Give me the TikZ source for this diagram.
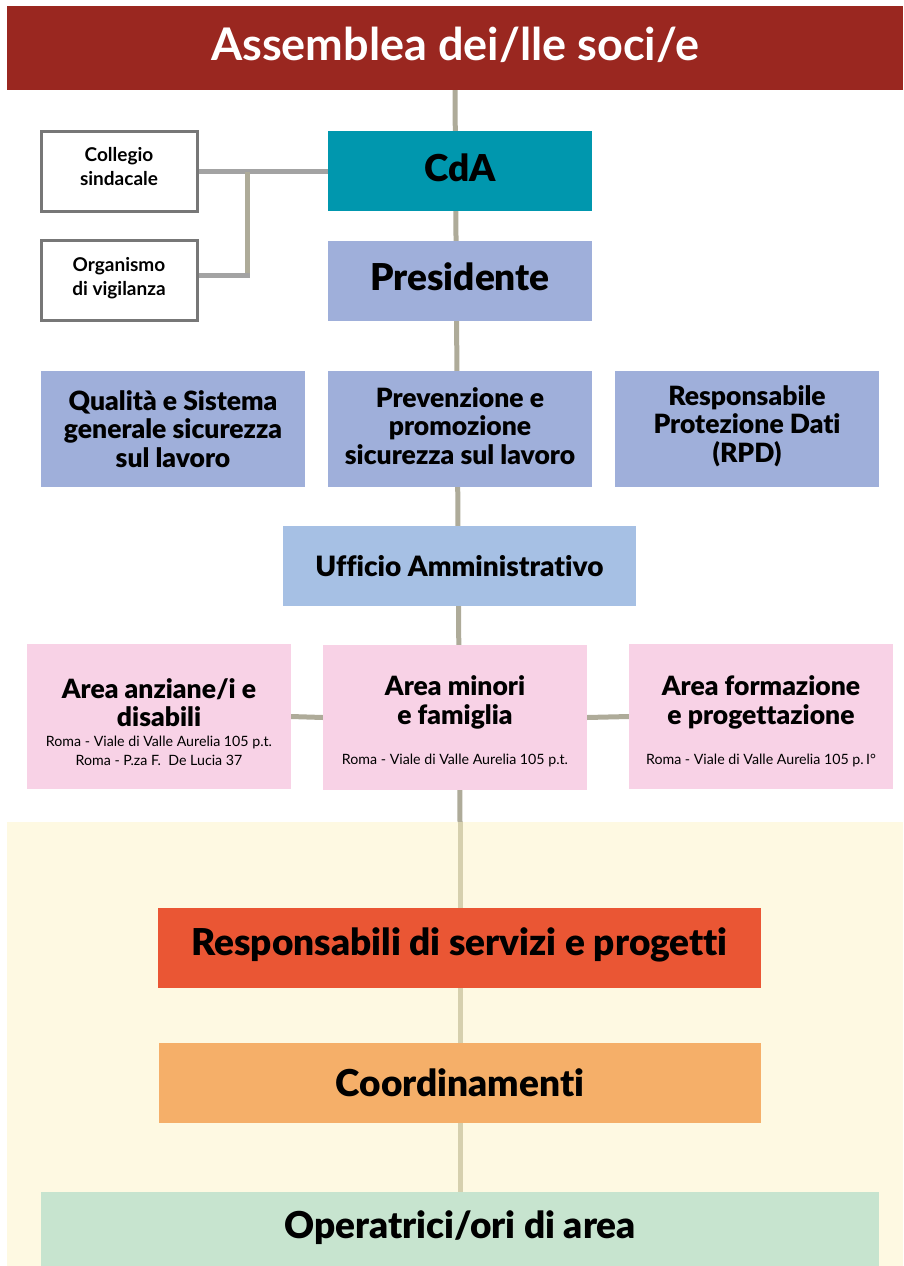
\documentclass[tikz,border=0pt]{standalone}
\usepackage{fontspec}
\setmainfont{Lato}[Ligatures={NoCommon}, BoldFont={* Black}]
\newfontfamily\sidefont{Lato Bold}[Ligatures={NoCommon}]
\definecolor{hdrred}{HTML}{9A2720}
\definecolor{cdateal}{HTML}{0097AE}
\definecolor{presblue}{HTML}{9FAFDA}
\definecolor{uffblue}{HTML}{A6C0E4}
\definecolor{areapink}{HTML}{F8D2E6}
\definecolor{bgyellow}{HTML}{FEF9E2}
\definecolor{respred}{HTML}{EA5634}
\definecolor{coordor}{HTML}{F5AF69}
\definecolor{oprgreen}{HTML}{C7E4CF}
\definecolor{linegray}{HTML}{AEAB99}
\definecolor{linelight}{HTML}{D6D0AE}
\definecolor{sidegray}{HTML}{A3A3A3}
\definecolor{bordgray}{HTML}{777777}
\pgfdeclarelayer{back}
\pgfdeclarelayer{mid}
\pgfsetlayers{back,mid,main}
\tikzset{
  box/.style={rectangle, inner sep=0pt, outer sep=0pt, draw=none},
  sidebox/.style={rectangle, inner sep=0pt, outer sep=0pt, draw=bordgray, line width=3pt, fill=white, minimum width=156pt, minimum height=80pt},
  conn/.style={line width=5pt, draw=linegray},
  sideconn/.style={line width=5pt, draw=sidegray},
  bigtxt/.style={font=\bfseries\fontsize{37}{40}\selectfont, align=center},
  midtxt/.style={font=\bfseries\fontsize{26.5}{28.5}\selectfont, align=center},
  sidetxt/.style={font=\sidefont\fontsize{19}{24}\selectfont, align=center},
  smalltxt/.style={font=\fontsize{14.2}{19}\selectfont, align=center},
}
\begin{document}
\begin{tikzpicture}[x=1pt,y=-1pt]
\useasboundingbox (0,0) rectangle (903,1266);
% boxes
\node[box, fill=hdrred, minimum width=896pt, minimum height=84pt] (hdr) at (455,48) {};
\node[font=\sidefont\fontsize{45}{48}\selectfont, text=white] (hdrt) at (455,45) {Assemblea dei/lle soci/e};

\node[box, fill=cdateal, minimum width=264pt, minimum height=80pt] (cda) at (460,171) {};
\node[bigtxt] (cdat) at (460,168) {CdA};
\node[box, fill=presblue, minimum width=264pt, minimum height=80pt] (pres) at (460,281) {};
\node[bigtxt] (prest) at (460,277) {Presidente};

\node[sidebox] (coll) at (119,171) {};
\node[sidetxt] (collt) at (119,167) {Collegio\\sindacale};
\node[sidebox] (org) at (119,280.5) {};
\node[sidetxt] (orgt) at (119,278) {Organismo\\di vigilanza};

\node[box, fill=presblue, minimum width=264pt, minimum height=116pt] (qual) at (173,429) {};
\node[midtxt] (qualt) at (173,429) {Qualità e Sistema\\generale sicurezza\\sul lavoro};
\node[box, fill=presblue, minimum width=264pt, minimum height=116pt] (prev) at (460,429) {};
\node[midtxt] (prevt) at (460,426) {Prevenzione e\\promozione\\sicurezza sul lavoro};
\node[box, fill=presblue, minimum width=264pt, minimum height=116pt] (rpd) at (747,429) {};
\node[midtxt] (rpdt) at (747,426) {Responsabile\\Protezione Dati\\(RPD)};

\node[box, fill=uffblue, minimum width=353pt, minimum height=80pt] (uff) at (459.5,566) {};
\node[midtxt, font=\bfseries\fontsize{28}{28.5}\selectfont] (ufft) at (459.5,566) {Ufficio Amministrativo};

\node[box, fill=areapink, minimum width=264pt, minimum height=145pt] (aan) at (159,716.5) {};
\node[midtxt] (aant) at (159,702.5) {Area anziane/i e\\disabili};
\node[smalltxt] (aans) at (159,750.5) {Roma - Viale di Valle Aurelia 105 p.t.\\Roma - P.za F.\ \ De Lucia 37};
\node[box, fill=areapink, minimum width=264pt, minimum height=145pt] (amin) at (455,717.5) {};
\node[midtxt] (amint) at (455,702.5) {Area minori\\e famiglia};
\node[smalltxt] (amins) at (455,760) {Roma - Viale di Valle Aurelia 105 p.t.};
\node[box, fill=areapink, minimum width=264pt, minimum height=145pt] (afor) at (761,716.5) {};
\node[midtxt] (afort) at (761,702.5) {Area formazione\\e progettazione};
\node[smalltxt] (afors) at (761,760) {Roma - Viale di Valle Aurelia 105 p.\,I°};

\node[box, fill=respred, minimum width=603pt, minimum height=80pt] (resp) at (459.5,948) {};
\node[bigtxt] (respt) at (459.5,945) {Responsabili di servizi e progetti};
\node[box, fill=coordor, minimum width=602pt, minimum height=80pt] (coord) at (460,1083) {};
\node[bigtxt] (coordt) at (460,1083) {Coordinamenti};
\node[box, fill=oprgreen, minimum width=838pt, minimum height=74pt] (opr) at (460,1229) {};
\node[bigtxt] (oprt) at (460,1228) {Operatrici/ori di area};

\coordinate (ytop) at (460,822);
\coordinate (sidej) at (247,171.5);
\coordinate (orgj) at (247,275.5);
\coordinate (orge) at (197,275.5);

\begin{pgfonlayer}{back}
  \fill[bgyellow] (7,822) rectangle (903,1266);
\end{pgfonlayer}
\begin{pgfonlayer}{mid}
  \draw[conn] (hdr.south) -- (ytop);
  \draw[conn, draw=linelight] (ytop) -- (opr.north);
  \draw[sideconn] (coll.east) -- (cda.west);
  \draw[conn] (sidej) -- (orgj);
  \draw[sideconn] (orge) -- ([xshift=2.5pt]orgj);
  \draw[conn] (aan.east) -- (amin.west);
  \draw[conn] (amin.east) -- (afor.west);
\end{pgfonlayer}
\end{tikzpicture}
\end{document}
